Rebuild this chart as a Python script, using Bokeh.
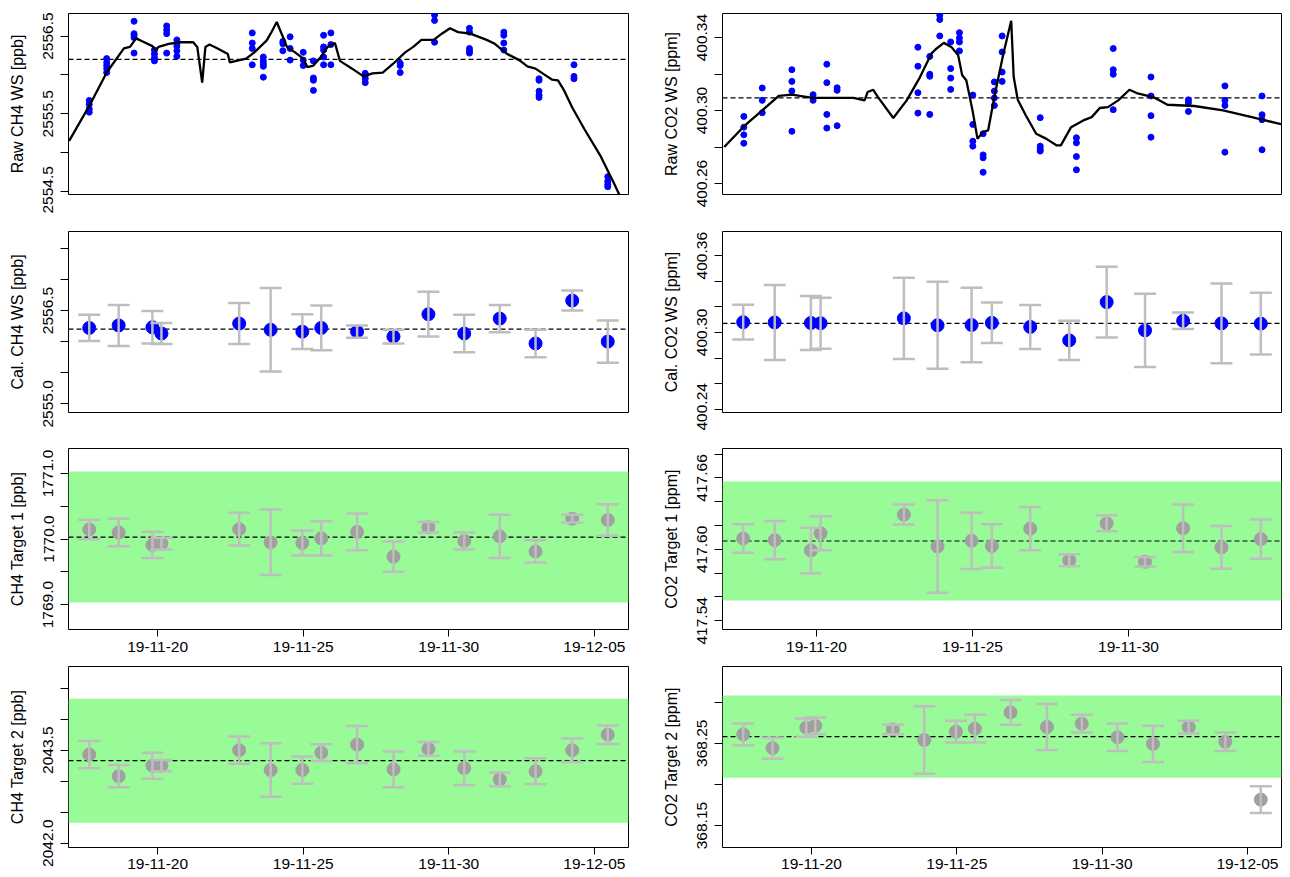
import numpy as np
import pandas as pd
from bokeh.plotting import figure
from bokeh.layouts import gridplot
from bokeh.models import (ColumnDataSource, Range1d, FixedTicker, PrintfTickFormatter,
                          DatetimeTickFormatter, Span, BoxAnnotation, Whisker, TeeHead)
from bokeh.embed import file_html
from bokeh.resources import INLINE

# ---------------- data ----------------
t0 = "2019-11-20"                      # day offsets below are counted from this date
xtick_dates = ["2019-11-20", "2019-11-25", "2019-11-30", "2019-12-05"]

# calibration / target episodes (days since t0)
cal_day = [-2.35, -1.34, -0.18, 0.13, 2.80, 3.88, 4.97, 5.62, 6.85, 8.10,
           9.30, 10.53, 11.75, 12.98, 14.24, 15.46]

# raw working-standard measurements
raw_ch4_day = [-2.35, -1.75, -0.81, -0.11, 0.31, 0.66, 3.25, 3.63, 4.30, 4.55, 5.00,
               5.35, 5.70, 5.95, 7.13, 8.33, 9.51, 10.71, 11.89, 13.10, 14.30, 15.46]
raw_ch4 = [[2555.67, 2555.62, 2555.56, 2555.52],
           [2556.21, 2556.16, 2556.12, 2556.08, 2556.03],
           [2556.69, 2556.53, 2556.51, 2556.48, 2556.28],
           [2556.32, 2556.27, 2556.22, 2556.18],
           [2556.63, 2556.58, 2556.53, 2556.28],
           [2556.45, 2556.41, 2556.37, 2556.31, 2556.24],
           [2556.54, 2556.41, 2556.34, 2556.13],
           [2556.23, 2556.18, 2556.14, 2556.11, 2555.97],
           [2556.43, 2556.40, 2556.31],
           [2556.49, 2556.34, 2556.19],
           [2556.29, 2556.19, 2556.12],
           [2556.18, 2555.96, 2555.93, 2555.80],
           [2556.51, 2556.36, 2556.32, 2556.23, 2556.13],
           [2556.54, 2556.39, 2556.13],
           [2556.02, 2555.99, 2555.95, 2555.90],
           [2556.15, 2556.12, 2556.03],
           [2556.77, 2556.70, 2556.42],
           [2556.60, 2556.55, 2556.34, 2556.31, 2556.28],
           [2556.55, 2556.51, 2556.41, 2556.32],
           [2555.95, 2555.93, 2555.79, 2555.74, 2555.71],
           [2556.13, 2555.98, 2555.95],
           [2554.69, 2554.63, 2554.59, 2554.56]]
fit_ch4_day = [-3.04, -2.35, -1.75, -1.16, -0.95, -0.74, -0.46, -0.18, -0.07, 0.03, 0.38,
               0.80, 1.22, 1.36, 1.53, 1.64, 1.78, 2.06, 2.41, 2.48, 3.04, 3.32, 3.74,
               3.88, 4.09, 4.30, 4.44, 4.72, 5.00, 5.14, 5.35, 5.56, 5.84, 6.09, 6.26,
               6.68, 7.07, 7.38, 7.73, 8.08, 8.50, 8.78, 9.06, 9.48, 9.76, 10.04, 10.32,
               10.74, 11.30, 11.58, 12.00, 12.42, 12.70, 12.98, 13.26, 13.54, 13.75,
               13.96, 14.24, 14.66, 15.22, 15.64, 15.88]
fit_ch4 = [2555.15, 2555.60, 2556.03, 2556.34, 2556.36, 2556.47, 2556.42, 2556.37, 2556.31,
           2556.36, 2556.40, 2556.42, 2556.42, 2556.36, 2555.90, 2556.36, 2556.39, 2556.34,
           2556.27, 2556.16, 2556.21, 2556.29, 2556.44, 2556.53, 2556.68, 2556.49, 2556.36,
           2556.29, 2556.21, 2556.10, 2556.12, 2556.21, 2556.36, 2556.41, 2556.18, 2556.08,
           2555.98, 2556.02, 2556.03, 2556.14, 2556.29, 2556.36, 2556.45, 2556.45, 2556.53,
           2556.60, 2556.55, 2556.53, 2556.45, 2556.40, 2556.27, 2556.19, 2556.11, 2556.08,
           2556.01, 2555.94, 2555.93, 2555.80, 2555.58, 2555.30, 2554.95, 2554.63, 2554.44]

raw_co2_day = [-2.33, -1.74, -0.79, -0.11, 0.33, 0.66, 3.25, 3.63, 3.95, 4.30, 4.58,
               5.01, 5.34, 5.70, 5.95, 7.17, 8.33, 9.51, 10.72, 11.92, 13.09, 14.28]
raw_co2 = [[400.2968, 400.2909, 400.2867, 400.2821],
           [400.3124, 400.3056, 400.2988],
           [400.3224, 400.3160, 400.3107, 400.2886],
           [400.3087, 400.3056],
           [400.3254, 400.3153, 400.2979, 400.2904],
           [400.3125, 400.3111, 400.2917],
           [400.3347, 400.3243, 400.3098, 400.2986],
           [400.3297, 400.3199, 400.3188, 400.2979],
           [400.3523, 400.3499, 400.3409],
           [400.3376, 400.3230, 400.3178, 400.3116],
           [400.3427, 400.3398, 400.3376, 400.3327],
           [400.3085, 400.2924, 400.2832, 400.2805],
           [400.2873, 400.2757, 400.2741, 400.2662],
           [400.3157, 400.3107, 400.3069, 400.3028],
           [400.3409, 400.3321, 400.3211, 400.3160],
           [400.2961, 400.2805, 400.2790, 400.2778],
           [400.2851, 400.2823, 400.2748, 400.2675],
           [400.3340, 400.3224, 400.3199, 400.3005],
           [400.3184, 400.3080, 400.2972, 400.2854],
           [400.3059, 400.3043, 400.2995],
           [400.3135, 400.3056, 400.3028, 400.2772],
           [400.3080, 400.2977, 400.2950, 400.2785]]
fit_co2_day = [-2.96, -2.33, -1.74, -1.21, -0.79, -0.13, 0.53, 1.18, 1.54, 1.64, 1.82,
               1.97, 2.46, 2.89, 3.29, 3.68, 3.82, 4.08, 4.32, 4.54, 4.67, 4.80, 5.00,
               5.16, 5.33, 5.50, 5.72, 5.99, 6.24, 6.32, 6.45, 6.71, 7.04, 7.37, 7.70,
               7.83, 8.16, 8.55, 8.82, 9.08, 9.34, 9.67, 10.03, 10.26, 10.79, 11.25,
               12.11, 13.03, 13.95, 14.93]
fit_co2 = [400.2800, 400.2913, 400.3001, 400.3080, 400.3087, 400.3070, 400.3070, 400.3070,
           400.3056, 400.3102, 400.3114, 400.3074, 400.2959, 400.3056, 400.3175, 400.3312,
           400.3336, 400.3371, 400.3349, 400.3303, 400.3193, 400.3166, 400.3001, 400.2845,
           400.2882, 400.2891, 400.3092, 400.3312, 400.3492, 400.3184, 400.3059, 400.2973,
           400.2873, 400.2845, 400.2809, 400.2809, 400.2909, 400.2946, 400.2964, 400.3014,
           400.3019, 400.3056, 400.3114, 400.3096, 400.3074, 400.3032, 400.3025, 400.3001,
           400.2964, 400.2924]

# calibrated working standard (mean, sd)
cal_ch4 = [2556.22, 2556.26, 2556.23, 2556.13, 2556.29, 2556.19, 2556.16, 2556.22,
           2556.16, 2556.08, 2556.44, 2556.13, 2556.37, 2555.97, 2556.66, 2556.00]
cal_ch4_sd = [0.21, 0.33, 0.26, 0.17, 0.33, 0.67, 0.28, 0.36, 0.10, 0.11, 0.36, 0.30,
              0.22, 0.22, 0.16, 0.34]
cal_co2 = [400.3080, 400.3078, 400.3074, 400.3072, 400.3110, 400.3056, 400.3058, 400.3075,
           400.3043, 400.2938, 400.3237, 400.3016, 400.3091, 400.3071, 400.3069]
cal_co2_sd = [0.0136, 0.0293, 0.0211, 0.0200, 0.0317, 0.0340, 0.0291, 0.0158, 0.0172,
              0.0153, 0.0276, 0.0287, 0.0065, 0.0312, 0.0242]

# targets (mean, sd)
tgt1_ch4 = [1770.145, 1770.10, 1769.91, 1769.93, 1770.15, 1769.95, 1769.94, 1770.01,
            1770.11, 1769.73, 1770.18, 1769.97, 1770.04, 1769.81, 1770.31, 1770.29]
tgt1_ch4_sd = [0.15, 0.21, 0.20, 0.09, 0.25, 0.50, 0.19, 0.26, 0.28, 0.23, 0.08, 0.13,
               0.33, 0.17, 0.06, 0.24]
tgt1_co2 = [417.6091, 417.6077, 417.5991, 417.6135, 417.6292, 417.6024, 417.6072, 417.6028,
            417.6174, 417.5908, 417.6219, 417.5896, 417.6177, 417.6017, 417.6086]
tgt1_co2_sd = [0.0119, 0.0161, 0.0191, 0.0143, 0.0084, 0.0388, 0.0236, 0.0182, 0.0182,
               0.0050, 0.0067, 0.0040, 0.0199, 0.0180, 0.0164]
tgt2_ch4 = [2043.43, 2043.08, 2043.25, 2043.25, 2043.50, 2043.18, 2043.18, 2043.46,
            2043.59, 2043.19, 2043.52, 2043.21, 2043.03, 2043.16, 2043.50, 2043.75]
tgt2_ch4_sd = [0.22, 0.18, 0.21, 0.09, 0.22, 0.43, 0.22, 0.135, 0.30, 0.29, 0.11, 0.27,
               0.11, 0.21, 0.19, 0.15]
tgt2_co2 = [368.2608, 368.2441, 368.2690, 368.2712, 368.2667, 368.2539, 368.2641, 368.2677,
            368.2875, 368.2698, 368.2738, 368.2573, 368.2492, 368.2696, 368.2518, 368.1815]
tgt2_co2_sd = [0.0132, 0.0128, 0.0112, 0.0102, 0.0057, 0.0410, 0.0132, 0.0169, 0.0151,
               0.0280, 0.0108, 0.0167, 0.0220, 0.0078, 0.0112, 0.0163]

# reference values (dashed lines) and tolerance bands
ref_ch4_ws, ref_co2_ws = 2556.20, 400.307
ref_ch4_t1, ref_co2_t1 = 1770.03, 417.607
ref_ch4_t2, ref_co2_t2 = 2043.33, 368.258
band_ch4, band_co2 = 1.0, 0.05

# axis limits and ticks
ylim = {"p1l": (2554.46, 2556.79), "p1r": (400.254, 400.3532),
        "p2l": (2554.86, 2557.77), "p2r": (400.2374, 400.3789),
        "p3l": (1768.62, 1771.38), "p3r": (417.5327, 417.6847),
        "p4l": (2041.93, 2044.85), "p4r": (368.1233, 368.3433)}
yticks = {"p1l": ([2554.5, 2555.5, 2556.5], [2555.0, 2556.0]),
          "p1r": ([400.26, 400.30, 400.34], [400.28, 400.32]),
          "p2l": ([2555.0, 2556.5], [2555.5, 2556.0, 2557.0, 2557.5]),
          "p2r": ([400.24, 400.30, 400.36], [400.26, 400.28, 400.32, 400.34]),
          "p3l": ([1769.0, 1770.0, 1771.0], [1769.5, 1770.5]),
          "p3r": ([417.54, 417.60, 417.66], [417.56, 417.58, 417.62, 417.64, 417.68]),
          "p4l": ([2042.0, 2043.5], [2042.5, 2043.0, 2044.0, 2044.5]),
          "p4r": ([368.15, 368.25], [368.20, 368.30])}

# ---------------- helpers ----------------
FONT = "Liberation Sans"
T0_MS = pd.Timestamp(t0).value / 1e6
DAY_MS = 86400000.0


def ms(days):
    return T0_MS + np.asarray(days, dtype=float) * DAY_MS


XTICKS = [float(pd.Timestamp(d).value / 1e6) for d in xtick_dates]

LEFT_W, RIGHT_W = 659, 624
LEFT_BORDERS = (68, 31)
RIGHT_BORDERS = (62, 2)
# (height, border_top, border_bottom)
ROWS = [(213, 13, 19), (217, 18, 18), (230, 18, 31), (216, 6, 29)]


def base_fig(col, row, key, xdays, ylab, fmt):
    h, top, bot = ROWS[row]
    w = LEFT_W if col == 0 else RIGHT_W
    lb, rb = LEFT_BORDERS if col == 0 else RIGHT_BORDERS
    lo, hi = min(xdays), max(xdays)
    pad = 0.04 * (hi - lo)
    show_x = row >= 2
    p = figure(width=w, height=h, x_axis_type="datetime",
               x_axis_location="below" if show_x else None,
               x_range=Range1d(float(ms(lo - pad)), float(ms(hi + pad))),
               y_range=Range1d(*ylim[key]),
               output_backend="svg", toolbar_location=None,
               min_border_left=lb, min_border_right=rb,
               min_border_top=top, min_border_bottom=bot)
    p.grid.visible = False
    p.outline_line_color = "black"
    p.outline_line_width = 1
    p.outline_line_alpha = 1
    p.background_fill_color = "white"
    p.border_fill_color = "white"

    ax = p.yaxis[0]
    major, minor = yticks[key]
    ax.ticker = FixedTicker(ticks=major, minor_ticks=minor)
    ax.formatter = PrintfTickFormatter(format=fmt)
    ax.major_label_orientation = "vertical"
    ax.axis_line_color = None
    ax.major_tick_out = 8
    ax.major_tick_in = 0
    ax.minor_tick_out = 8
    ax.minor_tick_in = 0
    ax.major_tick_line_color = "black"
    ax.minor_tick_line_color = "black"
    ax.major_label_text_font = FONT
    ax.major_label_text_font_size = "15.5px"
    ax.major_label_text_color = "black"
    ax.major_label_standoff = 7
    ax.axis_label = ylab
    ax.axis_label_text_font = FONT
    ax.axis_label_text_font_size = "16px"
    ax.axis_label_text_font_style = "normal"
    ax.axis_label_text_color = "black"
    ax.axis_label_standoff = 15

    if show_x:
        xa = p.xaxis[0]
        xa.ticker = FixedTicker(ticks=XTICKS)
        fmt_d = "%y-%m-%d"
        xa.formatter = DatetimeTickFormatter(hours=fmt_d, days=fmt_d, months=fmt_d, years=fmt_d)
        xa.axis_line_color = None
        xa.major_tick_out = 7
        xa.major_tick_in = 0
        xa.major_tick_line_color = "black"
        xa.minor_tick_line_color = None
        xa.major_label_text_font = FONT
        xa.major_label_text_font_size = "15.5px"
        xa.major_label_text_color = "black"
        xa.major_label_standoff = 5 if row == 2 else 4
    return p


def add_ref(p, ref, band=None):
    if band is not None:
        p.add_layout(BoxAnnotation(bottom=ref - band, top=ref + band, fill_color="#98FB98",
                                   fill_alpha=1.0, line_color=None, level="underlay"))
    p.add_layout(Span(location=ref, dimension="width", line_color="black",
                      line_dash="5 3", line_width=1.2, level="underlay"))


def raw_panel(col, key, ylab, fmt, xdays, rdays, rvals, fdays, fvals, ref):
    p = base_fig(col, 0, key, xdays, ylab, fmt)
    add_ref(p, ref)
    xs = [d for d, vs in zip(rdays, rvals) for _ in vs]
    ys = [v for vs in rvals for v in vs]
    p.scatter(ms(xs), ys, size=6, fill_color="#0000FF", line_color="#0000FF")
    p.line(ms(fdays), fvals, line_color="black", line_width=2.3)
    return p


def cal_panel(col, row, key, ylab, fmt, days, vals, sds, ref, band, pt_color):
    p = base_fig(col, row, key, days, ylab, fmt)
    add_ref(p, ref, band)
    v = np.asarray(vals, float)
    s = np.asarray(sds, float)
    src = ColumnDataSource(dict(x=ms(days), y=v, lo=v - s, hi=v + s))
    p.scatter("x", "y", source=src, size=13, fill_color=pt_color, line_color=pt_color)
    bar = "#BEBEBE"
    p.add_layout(Whisker(base="x", upper="hi", lower="lo", source=src, dimension="height",
                         line_color=bar, line_width=2.5, level="annotation",
                         upper_head=TeeHead(size=22, line_color=bar, line_width=2.5),
                         lower_head=TeeHead(size=22, line_color=bar, line_width=2.5)))
    return p


d16 = cal_day
d15 = cal_day[:15]
BLUE, GREY = "#0000FF", "#A0A0A0"

p1l = raw_panel(0, "p1l", "Raw CH4 WS [ppb]", "%.1f", d16, raw_ch4_day, raw_ch4,
                fit_ch4_day, fit_ch4, ref_ch4_ws)
p1r = raw_panel(1, "p1r", "Raw CO2 WS [ppm]", "%.2f", d15, raw_co2_day, raw_co2,
                fit_co2_day, fit_co2, ref_co2_ws)
p2l = cal_panel(0, 1, "p2l", "Cal. CH4 WS [ppb]", "%.1f", d16, cal_ch4, cal_ch4_sd,
                ref_ch4_ws, None, BLUE)
p2r = cal_panel(1, 1, "p2r", "Cal. CO2 WS [ppm]", "%.2f", d15, cal_co2, cal_co2_sd,
                ref_co2_ws, None, BLUE)
p3l = cal_panel(0, 2, "p3l", "CH4 Target 1 [ppb]", "%.1f", d16, tgt1_ch4, tgt1_ch4_sd,
                ref_ch4_t1, band_ch4, GREY)
p3r = cal_panel(1, 2, "p3r", "CO2 Target 1 [ppm]", "%.2f", d15, tgt1_co2, tgt1_co2_sd,
                ref_co2_t1, band_co2, GREY)
p4l = cal_panel(0, 3, "p4l", "CH4 Target 2 [ppb]", "%.1f", d16, tgt2_ch4, tgt2_ch4_sd,
                ref_ch4_t2, band_ch4, GREY)
p4r = cal_panel(1, 3, "p4r", "CO2 Target 2 [ppm]", "%.2f", d16, tgt2_co2, tgt2_co2_sd,
                ref_co2_t2, band_co2, GREY)

grid = gridplot([[p1l, p1r], [p2l, p2r], [p3l, p3r], [p4l, p4r]], toolbar_location=None)

with open("out.html", "w") as f:
    f.write(file_html(grid, INLINE, title="WS and target cal"))
